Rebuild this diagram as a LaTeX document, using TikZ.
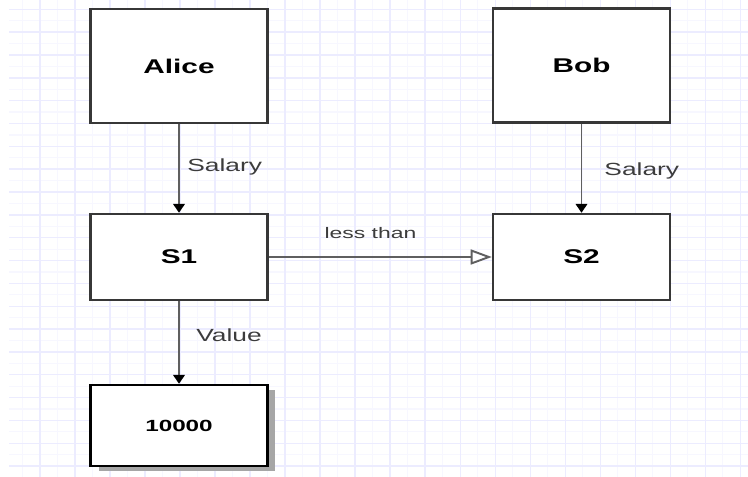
\documentclass[tikz,border=0pt]{standalone}
\usepackage{fontspec}
\setmainfont{Liberation Sans}
\usetikzlibrary{arrows.meta,shadows}
\newcommand{\wtext}[1]{\scalebox{1.5}[1]{#1}}
\definecolor{gridlight}{RGB}{247,247,255}
\definecolor{griddark}{RGB}{236,236,255}
\definecolor{boxline}{RGB}{55,55,55}
\definecolor{arrline}{RGB}{95,95,95}
\definecolor{labeltext}{RGB}{60,60,60}
\tikzset{
	entity/.style={draw=boxline,line width=1.4pt,fill=white,inner sep=0pt,minimum width=3.54cm,minimum height=2.28cm,font=\bfseries\fontsize{11.3}{13}\selectfont},
	field/.style={entity,minimum height=1.72cm},
	result/.style={field,draw=black,minimum height=1.62cm,drop shadow={shadow xshift=0.16cm,shadow yshift=-0.1cm,fill=black!35,opacity=1},font=\bfseries\fontsize{9.2}{11}\selectfont},
	diredge/.style={-{Triangle[length=5pt,width=6.5pt,black]},draw=arrline,line width=1.1pt},
	reledge/.style={-{Triangle[open,length=12pt,width=8.5pt,fill=white]},draw=arrline,line width=1.1pt},
	edgelabel/.style={text=labeltext,font=\fontsize{10}{12}\selectfont}
}

\begin{document}
\begin{tikzpicture}[x=0.02cm,y=-0.02cm]
	\useasboundingbox (0,0) rectangle (748,477);
	%%%% grid
	\foreach \gx in {22.7,57.7,...,741} \draw[gridlight,line width=0.7pt] (\gx,0) -- (\gx,477);
	\foreach \gy in {20.72,43.56,...,477} \draw[gridlight,line width=0.7pt] (9,\gy) -- (748,\gy);
	\foreach \gx in {40.2,75.2,...,741} \draw[griddark,line width=0.8pt] (\gx,0) -- (\gx,477);
	\foreach \gy in {9.3,32.14,...,477} \draw[griddark,line width=0.8pt] (9,\gy) -- (748,\gy);
	
	%%%% people
	\node[entity] (alice) at (179,66) {\wtext{Alice}};
	\node[entity] (bob) at (581.5,65.5) {\wtext{Bob}};
	
	%%%% salaries
	\node[field] (s1) at (179,257) {\wtext{S1}};
	\node[field] (s2) at (581.5,257) {\wtext{S2}};
	\node[result] (val) at (179,425.5) {\wtext{10000}};
	
	\draw[diredge] (alice) -- (s1);
	\draw[diredge] (bob) -- (s2);
	\draw[diredge] (s1) -- (val);
	\draw[reledge] (s1) -- (s2);
	
	\node[edgelabel] (sal1) at (224.7,167) {\wtext{Salary}};
	\node[edgelabel] (sal2) at (641.8,171) {\wtext{Salary}};
	\node[edgelabel] (vlab) at (229,335) {\wtext{Value}};
	\node[edgelabel,font=\fontsize{8.7}{10}\selectfont] (lt) at (370.5,233) {\wtext{less than}};
	
\end{tikzpicture}
\end{document}
